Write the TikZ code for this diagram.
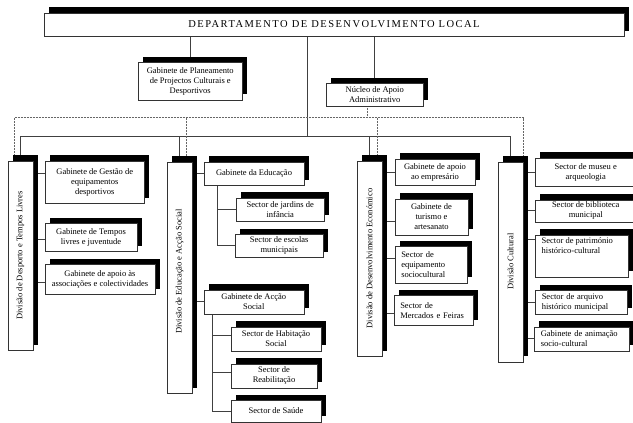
\documentclass[tikz,border=0pt]{standalone}
\usepackage{fontspec}
\setmainfont{Liberation Serif}
\usetikzlibrary{shadows,backgrounds,calc}
\begin{document}
\begin{tikzpicture}[x=1pt,y=-1pt,
  boxbase/.style={draw=black!80, line width=0.5pt, fill=white,
    general shadow={fill=black, shadow xshift=5pt, shadow yshift=5.5pt},
    anchor=north west, inner sep=0pt, align=center,
    font=\fontsize{8.5}{10}\selectfont},
  obox/.style n args={4}{boxbase, at={(#1,#2)},
    /utils/exec={\pgfmathsetmacro\bw{#3-#1}\pgfmathsetmacro\bh{#4-#2}},
    minimum width=\bw pt, minimum height=\bh pt},
  lobox/.style n args={4}{obox={#1}{#2}{#3}{#4}, align=left,
    /utils/exec={\pgfmathsetmacro\tw{#3-#1-13}}, text width=\tw pt},
  conn/.style={draw=black!75, line width=0.55pt},
  dotl/.style={draw=black!60, line width=0.5pt, dash pattern=on 0.6pt off 0.9pt},
  divtxt/.style={rotate=90, inner sep=0pt, font=\fontsize{8.5}{10}\selectfont},
  plaintxt/.style={inner sep=0pt, align=left, font=\fontsize{8.5}{10}\selectfont},
]
\useasboundingbox (0,0) rectangle (633,423);
\clip (0,0) rectangle (633,423);

% top level
\node[obox={43.5}{12.5}{624}{36}, font=\fontsize{10.5}{12}\selectfont\addfontfeatures{LetterSpace=14}] (top) {DEPARTAMENTO DE DESENVOLVIMENTO LOCAL};
\node[obox={138}{62}{242}{99.5}] (gp) {Gabinete de Planeamento\\de Projectos Culturais e\\Desportivos};
\node[obox={326}{83}{423}{105.5}] (nucleo) {Núcleo de Apoio\\Administrativo};

% divisions
\node[obox={7.5}{160.5}{32.5}{350}] (dd) {};
\node[obox={166.5}{161.5}{192}{393}] (de) {};
\node[obox={356.5}{160.5}{382}{356}] (dec) {};
\node[obox={498}{161.5}{522.5}{361.5}] (dc) {};
\node[divtxt] (ddt) at (dd.center) {Divisão de Desporto e Tempos Livres};
\node[divtxt] (det) at ([yshift=6pt]de.center) {Divisão de Educação e Acção Social};
\node[divtxt] (dect) at (dec.center) {Divisão de Desenvolvimento Económico};
\node[divtxt] (dct) at (dc.center) {Divisão Cultural};

% Desporto
\node[obox={45}{160.5}{144}{203}] (gg) {Gabinete de Gestão de\\equipamentos\\desportivos};
\node[obox={44.5}{223}{137}{251}] (gt) {Gabinete de Tempos\\livres e juventude};
\node[obox={44.5}{264}{155}{294}] (ga) {Gabinete de apoio às\\associações e colectividades};

% Educacao
\node[obox={203.5}{161.5}{304}{185}] (ge) {Gabinete da Educação};
\node[obox={236}{197.5}{324}{220.5}] (sj) {Sector de jardins de\\infância};
\node[obox={235}{234}{323}{257}] (se) {Sector de escolas\\municipais};
\node[obox={203.5}{289.5}{303.5}{313.5}] (gas) {Gabinete de Acção\\Social};
\node[obox={231}{326.5}{320.5}{350.5}] (sh) {Sector de Habitação\\Social};
\node[obox={231}{363.5}{316.5}{387.5}] (sr) {Sector de\\Reabilitação};
\node[obox={231}{400}{320.5}{421.5}] (ss) {Sector de Saúde};

% Economico
\node[obox={394.5}{158.5}{475}{185}] (gae) {Gabinete de apoio\\ao empresário};
\node[obox={394.5}{198.5}{468}{234.5}] (gtu) {Gabinete de\\turismo e\\artesanato};
\node[lobox={394.5}{246}{467}{282.5}] (seq) {Sector de\\equipamento\\sociocultural};
\node[lobox={393.5}{295}{473}{325}] (sm) {Sector de\\Mercados e Feiras};

% Cultural
\node[obox={535}{157.5}{636}{186}] (smu) {Sector de museu e\\arqueologia};
\node[obox={535}{199.5}{636}{221.5}] (sb) {Sector de biblioteca\\municipal};
\node[obox={535}{234.5}{627.5}{276.5}] (sp) {};
\node[plaintxt, anchor=north west] (spt) at ([xshift=6.5pt,yshift=-3pt]sp.north west) {Sector de património\\histórico-cultural};
\node[lobox={535}{290}{627}{313.5}] (sa) {Sector de arquivo\\histórico municipal};
\node[lobox={534}{326.5}{628.5}{350.5}] (gan) {Gabinete de animação\\socio-cultural};

% helper coordinates
\coordinate (busS) at (306.8,136);
\coordinate (busD) at (0,117.5);
\coordinate (ddD) at ([xshift=-6pt]dd.north);
\coordinate (deD) at ([xshift=6.75pt]de.north);
\coordinate (decD) at ([xshift=7.25pt]dec.north);
\coordinate (dcD) at ([xshift=12.75pt]dc.north);
\coordinate (nuD) at ([xshift=-7.5pt]nucleo.south);
\coordinate (ggC) at ([yshift=8.5pt]gg.west);
\coordinate (gtC) at ([yshift=-2.3pt]gt.west);
\coordinate (gaC) at ([yshift=-2.7pt]ga.west);
\coordinate (geV) at ([xshift=14pt]ge.south west);
\coordinate (gasV) at ([xshift=9.2pt]gas.south west);
\coordinate (shC) at ([yshift=3pt]sh.west);
\coordinate (srC) at ([yshift=3pt]sr.west);
\coordinate (gtuC) at ([yshift=-5pt]gtu.west);
\coordinate (seqC) at ([yshift=6pt]seq.west);
\coordinate (smC) at ([yshift=-2.7pt]sm.west);
\coordinate (spC) at ([yshift=16pt]sp.west);

\begin{pgfonlayer}{background}
  % solid bus
  \draw[conn] (top.south -| busS) -- (busS);
  \draw[conn] (top.south -| gp.north) -- (gp.north);
  \draw[conn] (top.south -| nucleo.north) -- (nucleo.north);
  \draw[conn] (dd.north) |- (dc.north |- busS) -- (dc.north);
  \draw[conn] (de.north |- busS) -- (de.north);
  \draw[conn] (dec.north |- busS) -- (dec.north);
  % dotted bus
  \draw[dotl] (nuD) -- (nuD |- busD);
  \draw[dotl] (ddD) |- (dcD |- busD) -- (dcD);
  \draw[dotl] (deD |- busD) -- (deD);
  \draw[dotl] (decD |- busD) -- (decD);
  % Desporto
  \draw[conn] (ggC) -- (ggC -| dd.center);
  \draw[conn] (gtC) -- (gtC -| dd.center);
  \draw[conn] (gaC) -- (gaC -| dd.center);
  % Educacao
  \draw[conn] (ge.west) -- (ge.west -| de.center);
  \draw[conn] (gas.west) -- (gas.west -| de.center);
  \draw[conn] (geV) |- (se.west);
  \draw[conn] (sj.west) -- (sj.west -| geV);
  \draw[conn] (gasV) |- (ss.west);
  \draw[conn] (shC) -- (shC -| gasV);
  \draw[conn] (srC) -- (srC -| gasV);
  % Economico
  \draw[conn] (gae.west) -- (gae.west -| dec.center);
  \draw[conn] (gtuC) -- (gtuC -| dec.center);
  \draw[conn] (seqC) -- (seqC -| dec.center);
  \draw[conn] (smC) -- (smC -| dec.center);
  % Cultural
  \draw[conn] (smu.west) -- (smu.west -| dc.center);
  \draw[conn] (sb.west) -- (sb.west -| dc.center);
  \draw[conn] (spC) -- (spC -| dc.center);
  \draw[conn] (sa.west) -- (sa.west -| dc.center);
  \draw[conn] (gan.west) -- (gan.west -| dc.center);
\end{pgfonlayer}
\end{tikzpicture}
\end{document}
